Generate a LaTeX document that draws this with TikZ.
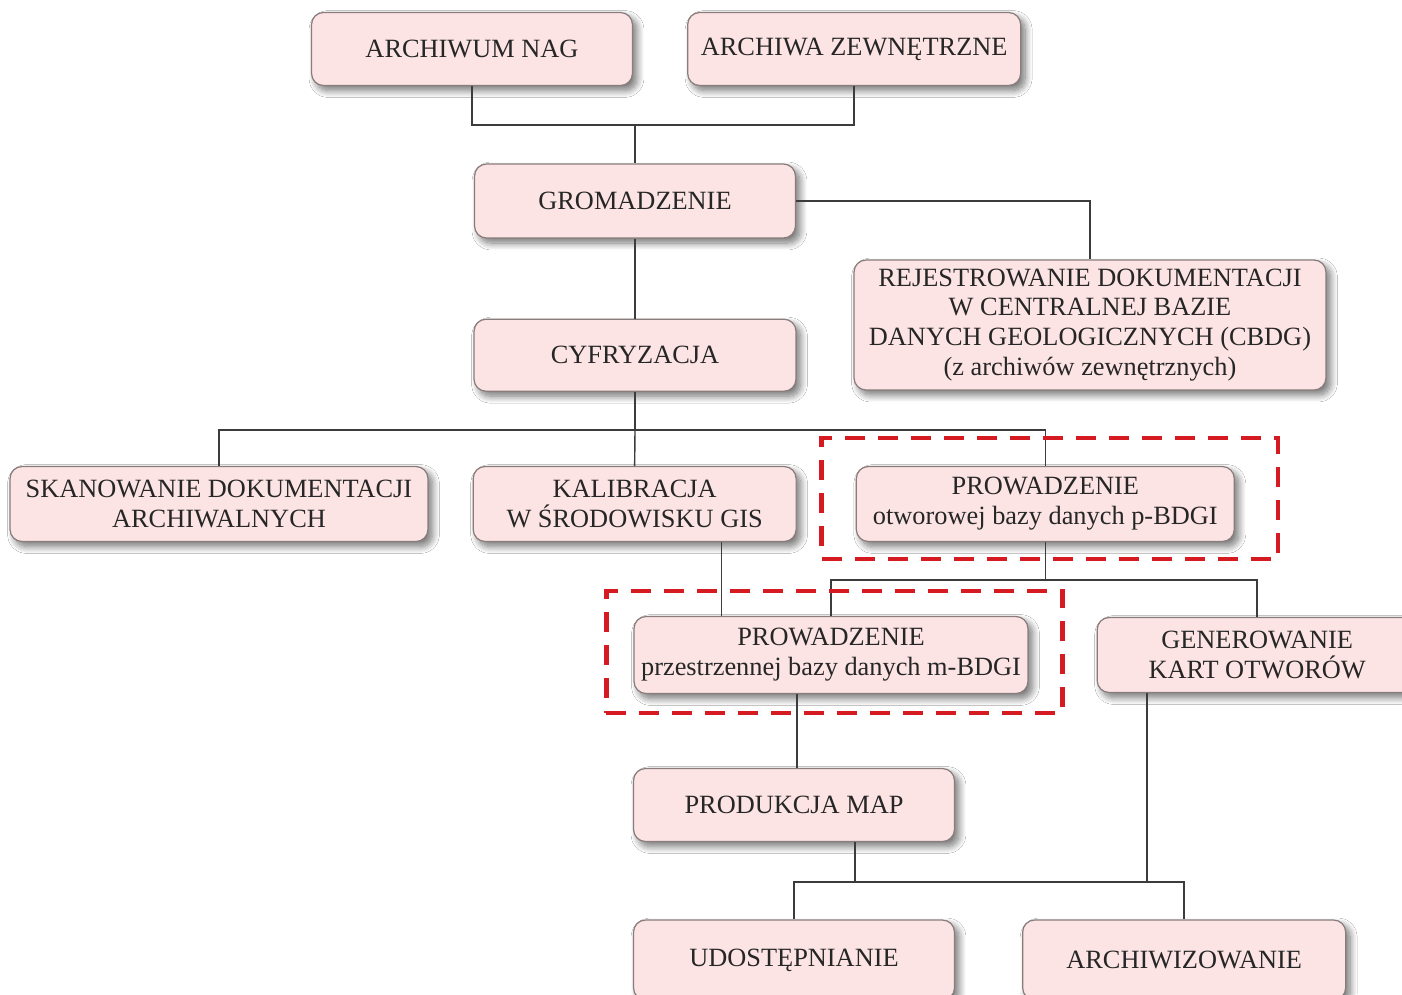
\documentclass[tikz,border=0pt]{standalone}
\usepackage{fontspec}
\setmainfont{Liberation Serif}
\usetikzlibrary{positioning,fit,shadows.blur}

\definecolor{boxfill}{HTML}{FDE4E4}
\definecolor{boxline}{HTML}{8A7C7C}
\definecolor{linkgray}{HTML}{3C3C3C}
\definecolor{markred}{HTML}{D51A22}

\tikzset{
    stage/.style={rectangle,rounded corners=0.24cm,draw=boxline,line width=0.7pt,fill=boxfill,
        text=black!85,align=center,font=\fontsize{15}{17}\selectfont,inner sep=0.1cm,
        blur shadow={shadow xshift=0.09cm,shadow yshift=-0.1cm,shadow blur radius=0.14cm,
            shadow blur steps=12,shadow opacity=55}},
    link/.style={color=linkgray,line width=0.8pt},
    redbox/.style={draw=markred,line width=2.6pt,dash pattern=on 0.4cm off 0.26cm,inner sep=0pt}
}

\begin{document}
\begin{tikzpicture}[x=0.02cm,y=-0.02cm]
    \fill[white] (0,0) rectangle (1402,994);
    \useasboundingbox (0,0) rectangle (1402,994);

    \begin{scope}[every node/.style={stage}]
        %level 1
        \node[minimum width=6.42cm,minimum height=1.46cm] (level11) at (472,49) {ARCHIWUM NAG};
        \node[minimum width=6.66cm,minimum height=1.46cm,right = 1.08cm of level11] (level12) {ARCHIWA ZEWNĘTRZNE};

        %level 2
        \node[minimum width=6.42cm,minimum height=1.48cm] (level21) at (635,201) {GROMADZENIE};
        \node[minimum width=9.44cm,minimum height=2.6cm] (level22) at (1090,325)
            {REJESTROWANIE DOKUMENTACJI\\W CENTRALNEJ BAZIE\\DANYCH GEOLOGICZNYCH (CBDG)\\(z archiwów zewnętrznych)};

        %level 3
        \node[minimum width=6.44cm,minimum height=1.44cm,below = 1.6cm of level21] (level31) {CYFRYZACJA};

        %level 4
        \node[minimum width=8.36cm,minimum height=1.5cm] (level41) at (219,504) {SKANOWANIE DOKUMENTACJI\\ARCHIWALNYCH};
        \node[minimum width=6.46cm,minimum height=1.5cm,right = 0.88cm of level41] (level42) {KALIBRACJA\\W ŚRODOWISKU GIS};
        \node[minimum width=7.56cm,minimum height=1.5cm,right = 1.18cm of level42] (level43) {PROWADZENIE\\otworowej bazy danych p-BDGI};

        %level 5
        \node[minimum width=7.88cm,minimum height=1.54cm] (level51) at (831,655) {PROWADZENIE\\przestrzennej bazy danych m-BDGI};
        \node[minimum width=6.4cm,minimum height=1.5cm,right = 1.36cm of level51] (level52) {GENEROWANIE\\KART OTWORÓW};

        %level 6
        \node[minimum width=6.42cm,minimum height=1.46cm] (level61) at (794,805) {PRODUKCJA MAP};

        %level 7
        \node[minimum width=6.42cm,minimum height=1.6cm] (level71) at (794,960) {UDOSTĘPNIANIE};
        \node[minimum width=6.46cm,minimum height=1.6cm,right = 1.34cm of level71] (level72) {ARCHIWIZOWANIE};
    \end{scope}

    %links
    \begin{scope}[link]
        %level 1
        \coordinate (bus1) at (level21.north |- 0,125);
        \draw (level11.south) |- (bus1) -| (level12.south);
        \draw (bus1) -- (level21.north);

        %level 2
        \draw (level21.east) -| (level22.north);
        \draw (level21.south) -- (level31.north);

        %level 3
        \coordinate (bus2) at (level31.south |- 0,430);
        \draw (level31.south) -- (bus2);
        \draw (level41.north) |- (bus2) -| (level43.north);
        \draw (bus2) -- (level42.north);

        %level 4
        \draw ([xshift=1.74cm]level42.south) -- ([xshift=1.74cm]level42.south |- level51.north);
        \coordinate (bus3) at (level43.south |- 0,580);
        \draw (level43.south) -- (bus3);
        \draw (level51.north) |- (bus3) -| (level52.north);

        %level 5
        \draw ([xshift=-0.68cm]level51.south) -- ([xshift=-0.68cm]level51.south |- level61.north);

        %level 6
        \coordinate (bus4) at ([xshift=1.22cm]level61.south |- 0,882);
        \draw ([xshift=1.22cm]level61.south) -- (bus4);
        \draw (level71.north) |- (bus4) -| (level72.north);
        \draw ([xshift=-2.2cm]level52.south) -- ([xshift=-2.2cm]level52.south |- bus4);
    \end{scope}

    %reds
    \node[redbox,fit=(level43),inner xsep=0.77cm,inner ysep=0.45cm,xshift=0.09cm,yshift=0.11cm] (mark1) {};
    \node[redbox,fit=(level51),inner xsep=0.61cm,inner ysep=0.44cm,xshift=0.07cm,yshift=0.06cm] (mark2) {};
\end{tikzpicture}
\end{document}
